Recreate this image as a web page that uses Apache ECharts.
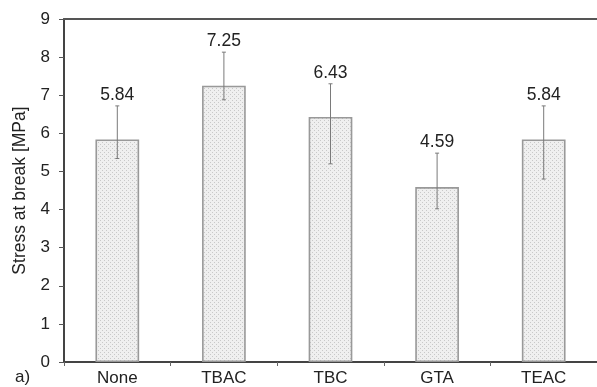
<!DOCTYPE html>
<html>
<head>
<meta charset="utf-8">
<script src="https://cdn.jsdelivr.net/npm/echarts@6/dist/echarts.min.js"></script>
<style>
  html, body { margin: 0; padding: 0; background: #fff; }
  #chart { width: 597px; height: 387px; }
</style>
</head>
<body>
<div id="chart"></div>
<script>
// Plasticizer types and measured tensile stress at break
const categories = ['None', 'TBAC', 'TBC', 'GTA', 'TEAC'];
const stressMean = [5.84, 7.25, 6.43, 4.59, 5.84];
const errLow = [5.34, 6.88, 5.20, 4.02, 4.80];
const errHigh = [6.72, 8.13, 7.30, 5.48, 6.72];
const yTicks = [0, 1, 2, 3, 4, 5, 6, 7, 8, 9];

// Fine stippled fill for the bars
function stipple() {
  const c = document.createElement('canvas');
  c.width = 4; c.height = 4;
  const g = c.getContext('2d');
  g.fillStyle = '#efefef';
  g.fillRect(0, 0, 4, 4);
  g.fillStyle = '#c8c8c8';
  g.fillRect(0, 0, 1, 1);
  g.fillRect(2, 2, 1, 1);
  return c;
}

const chart = echarts.init(document.getElementById('chart'), null, { renderer: 'canvas' });
const font = 'Liberation Sans, Arial, sans-serif';

const errData = categories.map((c, i) => [i, errLow[i], errHigh[i], stressMean[i]]);

chart.setOption({
  animation: false,
  backgroundColor: '#fff',
  grid: { left: 64, top: 19, bottom: 25, width: 535 },
  graphic: [{
    type: 'text', left: 15, top: 369,
    style: { text: 'a)', font: '17px ' + font, fill: '#222' }
  }],
  xAxis: [{
    type: 'category',
    data: categories,
    axisLine: { lineStyle: { color: '#444', width: 2 } },
    axisTick: { show: true, length: 4, lineStyle: { color: '#666', width: 1 } },
    axisLabel: { color: '#222', fontSize: 17, fontFamily: font, margin: 8 }
  }, {
    type: 'category',
    data: categories,
    position: 'top',
    axisLine: { lineStyle: { color: '#555', width: 2 } },
    axisTick: { show: false },
    axisLabel: { show: false }
  }],
  yAxis: {
    type: 'value',
    min: yTicks[0],
    max: yTicks[yTicks.length - 1],
    interval: 1,
    name: 'Stress at break [MPa]',
    nameLocation: 'middle',
    nameGap: 31,
    nameTextStyle: { color: '#222', fontSize: 17.5, fontFamily: font },
    axisLine: { show: true, lineStyle: { color: '#444', width: 2 } },
    axisTick: { show: true, length: 5, lineStyle: { color: '#555', width: 1 } },
    axisLabel: { color: '#222', fontSize: 17, fontFamily: font, margin: 14 },
    splitLine: { show: false }
  },
  series: [{
    type: 'bar',
    data: stressMean,
    barWidth: '41%',
    itemStyle: {
      color: { image: stipple(), repeat: 'repeat' },
      borderColor: '#999',
      borderWidth: 1.6
    },
    z: 2
  }, {
    type: 'custom',
    data: errData,
    z: 3,
    renderItem: function (params, api) {
      const x = api.value(0);
      const lo = api.coord([x, api.value(1)]);
      const hi = api.coord([x, api.value(2)]);
      const cap = 2;
      const st = { stroke: '#7a7a7a', lineWidth: 1 };
      return {
        type: 'group',
        children: [
          { type: 'line', shape: { x1: hi[0], y1: hi[1], x2: lo[0], y2: lo[1] }, style: st },
          { type: 'line', shape: { x1: hi[0] - cap, y1: hi[1], x2: hi[0] + cap, y2: hi[1] }, style: st },
          { type: 'line', shape: { x1: lo[0] - cap, y1: lo[1], x2: lo[0] + cap, y2: lo[1] }, style: st },
          {
            type: 'text',
            x: hi[0], y: hi[1] - 2,
            style: {
              text: api.value(3).toFixed(2),
              font: '17.5px ' + font,
              fill: '#222',
              align: 'center',
              verticalAlign: 'bottom'
            }
          }
        ]
      };
    }
  }]
});
</script>
</body>
</html>
